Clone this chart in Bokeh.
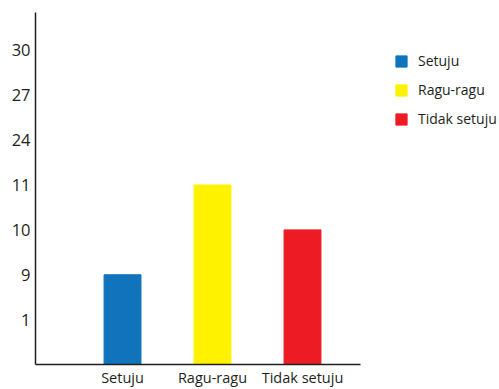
from bokeh.plotting import figure
from bokeh.models import ColumnDataSource, Legend, LegendItem, FixedTicker, Range1d
from bokeh.embed import file_html
from bokeh.resources import INLINE

categories = ["Setuju", "Ragu-ragu", "Tidak setuju"]
values = [9, 11, 10]
y_tick_labels = ["1", "9", "10", "11", "24", "27", "30"]
colors = ["#1273bd", "#fff200", "#ed1c24"]

# The chart's y-axis is an ordinal scale: each label occupies one equal step
y_steps = [str(v) for v in y_tick_labels]
bar_x = list(range(1, len(categories) + 1))
bar_top = [y_steps.index(str(v)) + 1 for v in values]

src = ColumnDataSource(dict(x=bar_x, top=bar_top, color=colors, cat=categories))

FONT = "Open Sans"
p = figure(width=499, height=389, output_backend="svg", toolbar_location=None,
           x_range=Range1d(0.033, 5.189), y_range=Range1d(0, 353 / 45),
           min_border_left=35, min_border_top=12, min_border_right=0,
           min_border_bottom=0)
p.outline_line_color = None
p.xgrid.grid_line_color = None
p.ygrid.grid_line_color = None

r = p.vbar(x="x", top="top", bottom=0, width=0.41, color="color", source=src)

for ax in (p.xaxis[0], p.yaxis[0]):
    ax.axis_line_color = "#231f20"
    ax.axis_line_width = 1.5
    ax.major_tick_line_color = None
    ax.minor_tick_line_color = None
    ax.major_tick_out = 0
    ax.major_tick_in = 0
    ax.minor_tick_out = 0
    ax.minor_tick_in = 0
    ax.major_label_text_font = FONT
    ax.major_label_text_color = "#231f20"

p.xaxis.bounds = (0.0, 3.644)
p.xaxis.ticker = FixedTicker(ticks=bar_x)
p.xaxis.major_label_overrides = {x: c for x, c in zip(bar_x, categories)}
p.xaxis.major_label_text_font_size = "14.5px"
p.xaxis.major_label_standoff = 3

yt = list(range(1, len(y_tick_labels) + 1))
p.yaxis.ticker = FixedTicker(ticks=yt)
p.yaxis.major_label_overrides = {t: l for t, l in zip(yt, y_tick_labels)}
p.yaxis.major_label_text_font_size = "16.5px"
p.yaxis.major_label_text_align = "center"
p.yaxis.major_label_standoff = 5

items = []
for i, c in enumerate(categories):
    items.append(LegendItem(label=c, renderers=[r], index=i))
legend = Legend(items=items, location=(359, 236), border_line_color=None,
                background_fill_alpha=0, glyph_width=14, glyph_height=14,
                label_height=14, spacing=10, label_standoff=10,
                label_text_font=FONT, label_text_font_size="14px",
                label_text_color="#231f20", padding=0, margin=0)
p.add_layout(legend, "center")

open("out.html", "w").write(file_html(p, INLINE))
